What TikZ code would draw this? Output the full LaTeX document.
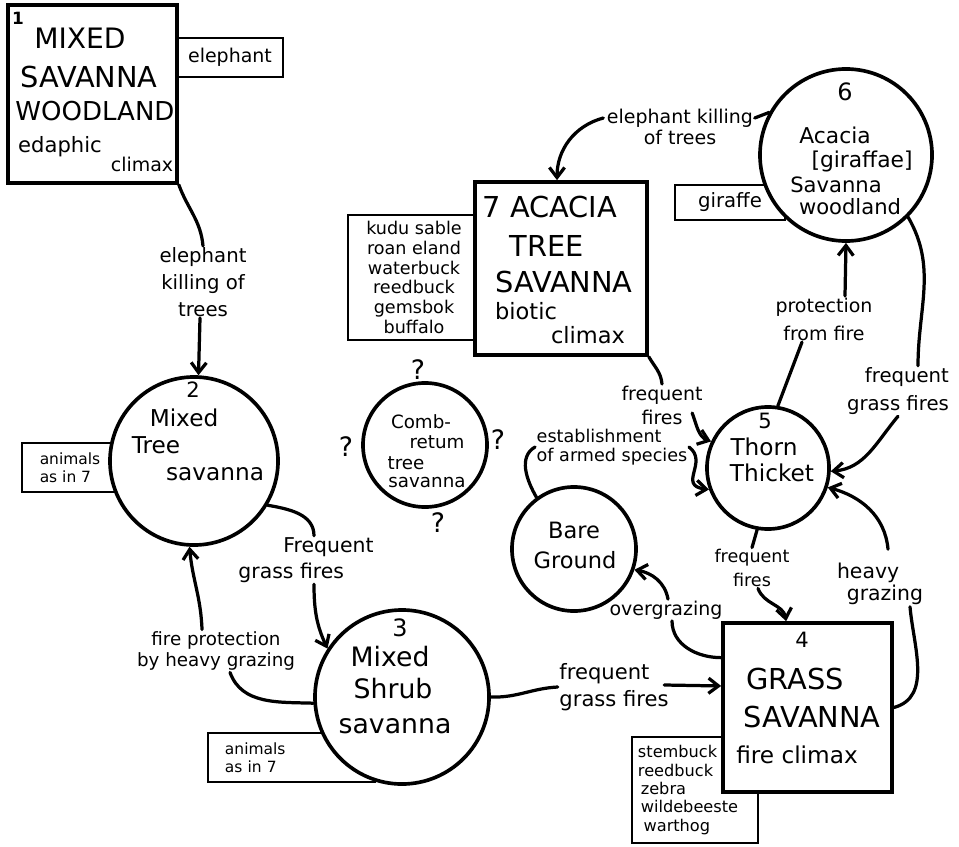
\documentclass[tikz,border=0pt]{standalone}
\usepackage{fontspec}
\setmainfont{DejaVu Sans}
\usetikzlibrary{arrows.meta,calc,positioning}

\tikzset{
    stage/.style={draw, line width=2.6pt, fill=white, inner sep=0pt},
    fauna/.style={draw, line width=1.6pt, fill=white, inner sep=3pt, font=\fontsize{11.5}{13}\selectfont},
    link/.style={line width=2.3pt, line cap=round},
    flow/.style={link, -{Straight Barb[length=2.5mm, width=3.8mm]}},
    caps/.style={inner sep=0pt, font=\fontsize{20.5}{24}\selectfont},
    names/.style={inner sep=0pt, font=\fontsize{16.5}{19}\selectfont},
    numb/.style={inner sep=0pt, font=\fontsize{15}{17}\selectfont},
    cue/.style={inner sep=1pt, align=center},
    qmark/.style={inner sep=0pt, font=\fontsize{19}{21}\selectfont},
}

\begin{document}
\begin{tikzpicture}[x=0.025cm, y=-0.025cm]
    \path[use as bounding box, fill=white] (0,0) rectangle (959,847);

    % Animal lists (behind the stages)
    \node[fauna, minimum width=2.65cm, minimum height=0.975cm, font=\fontsize{13.5}{16}\selectfont] (fz1) at (230,57.5) {elephant};
    \node[fauna, minimum width=2.4cm, minimum height=1.225cm, align=left, font=\fontsize{11}{13}\selectfont] (fz2) at (70,467.5) {animals\\as in 7};
    \node[fauna, minimum width=4.175cm, minimum height=1.225cm, text width=3.325cm, inner xsep=0.425cm, align=left, font=\fontsize{11}{13}\selectfont] (fz3) at (291.5,757.5) {animals\\as in 7};
    \node[fauna, minimum width=3.3cm, minimum height=3.125cm, align=center, font=\fontsize{12.5}{14}\selectfont] (fz7) at (414,277.5) {kudu sable\\roan eland\\waterbuck\\reedbuck\\gemsbok\\buffalo};
    \node[fauna, minimum width=3.15cm, minimum height=2.65cm, text width=2.85cm, inner xsep=0.15cm, align=left] (fz4) at (695,790) {stembuck\\reedbuck\\\hspace*{2pt}zebra\\\hspace*{2pt}wildebeeste\\\hspace*{4pt}warthog};
    \node[fauna, minimum width=2.75cm, minimum height=0.875cm, font=\fontsize{14}{16}\selectfont] (fz6) at (730,202.5) {giraffe};

    % Stages
    \node[stage, rectangle, minimum width=4.225cm, minimum height=4.45cm] (mixwood) at (92.5,94) {};
    \node[stage, rectangle, minimum width=4.3cm, minimum height=4.325cm] (acacia) at (561,268.5) {};
    \node[stage, rectangle, minimum width=4.225cm, minimum height=4.225cm] (grass) at (807.5,707.5) {};
    \node[stage, circle, minimum size=4.2cm] (mixtree) at (194,461) {};
    \node[stage, circle, minimum size=4.35cm] (mixshrub) at (402,697) {};
    \node[stage, circle, minimum size=3.05cm] (thorn) at (768,468) {};
    \node[stage, circle, minimum size=4.3cm] (acwood) at (846,155) {};
    \node[stage, circle, minimum size=3.1cm] (bare) at (574,549) {};
    \node[stage, circle, minimum size=3.1cm] (comb) at (425,445) {};

    % 1 mixed savanna woodland
    \node[inner sep=0pt, font=\bfseries\fontsize{12}{14}\selectfont] (n1) at (18,18) {1};
    \node[caps, font=\fontsize{20}{24}\selectfont] (t1a) at (80,38) {MIXED};
    \node[caps] (t1b) at (89,77) {SAVANNA};
    \node[caps, font=\fontsize{18.5}{22}\selectfont] (t1c) at (95,111) {WOODLAND};
    \node[names, font=\fontsize{15}{18}\selectfont] (t1d) at (60,147) {edaphic};
    \node[names, font=\fontsize{13.5}{16}\selectfont] (t1e) at (142,164) {climax};

    % 7 acacia tree savanna
    \node[caps] (t7a) at (550,207) {7 ACACIA};
    \node[caps] (t7b) at (547,246) {TREE};
    \node[caps] (t7c) at (564,282) {SAVANNA};
    \node[names, font=\fontsize{16}{19}\selectfont] (t7d) at (526,311) {biotic};
    \node[names, font=\fontsize{16}{19}\selectfont] (t7e) at (588,335) {climax};

    % 4 grass savanna
    \node[numb] (n4) at (802,640) {4};
    \node[caps] (t4a) at (795,679) {GRASS};
    \node[caps] (t4b) at (812,717) {SAVANNA};
    \node[names] (t4c) at (797,755) {fire climax};

    % 2 mixed tree savanna
    \node[numb] (n2) at (193,390) {2};
    \node[names] (t2a) at (184,418) {Mixed};
    \node[names] (t2b) at (156,445) {Tree};
    \node[names] (t2c) at (215,474) {savanna};

    % 3 mixed shrub savanna
    \node[numb, font=\fontsize{17}{19}\selectfont] (n3) at (400,628) {3};
    \node[names, font=\fontsize{19}{22}\selectfont] (t3a) at (390,657) {Mixed};
    \node[names, font=\fontsize{19}{22}\selectfont] (t3b) at (393,689) {Shrub};
    \node[names, font=\fontsize{19}{22}\selectfont] (t3c) at (395,726) {savanna};

    % 5 thorn thicket
    \node[numb] (n5) at (765,421) {5};
    \node[names] (t5a) at (764,447) {Thorn};
    \node[names] (t5b) at (772,473) {Thicket};

    % 6 acacia savanna woodland
    \node[numb, font=\fontsize{17}{19}\selectfont] (n6) at (845,92) {6};
    \node[names, font=\fontsize{15.5}{18}\selectfont] (t6a) at (835,135) {Acacia};
    \node[names, font=\fontsize{15.5}{18}\selectfont] (t6b) at (862,161) {[giraffae]};
    \node[names, font=\fontsize{15}{18}\selectfont] (t6c) at (836,185) {Savanna};
    \node[names, font=\fontsize{15}{18}\selectfont] (t6d) at (850,207) {woodland};

    % bare ground and combretum
    \node[names, font=\fontsize{16}{19}\selectfont] (tba) at (574,530) {Bare};
    \node[names, font=\fontsize{16}{19}\selectfont] (tbb) at (575,560) {Ground};
    \node[names, font=\fontsize{13}{15}\selectfont] (tca) at (421,422) {Comb-};
    \node[names, font=\fontsize{13}{15}\selectfont] (tcb) at (437,442) {retum};
    \node[names, font=\fontsize{13}{15}\selectfont] (tcc) at (406,463) {tree};
    \node[names, font=\fontsize{13}{15}\selectfont] (tcd) at (427,483) {savanna};
    \node[qmark] (q1) at (418,370) {?};
    \node[qmark] (q2) at (346,447) {?};
    \node[qmark] (q3) at (498,440) {?};
    \node[qmark] (q4) at (438,523) {?};

    % 1 -> 2
    \node[cue, font=\fontsize{14}{19}\selectfont] (e12) at (203,282) {elephant\\killing of\\trees};
    \draw[link] (mixwood.south east) to[out=-70,in=95] (e12.north);
    \draw[flow] ($(e12.south)+(-3,0)$) -- (mixtree.87);

    % 2 -> 3
    \node[cue, align=left, font=\fontsize{14.5}{18.5}\selectfont] (e23) at (306,560) {\hspace*{32pt}Frequent\\grass fires};
    \draw[link] (mixtree.-31) to[out=-10,in=90] ($(e23.north)+(8,0)$);
    \draw[flow] ($(e23.south)+(8,0)$) to[out=-90,in=115] (mixshrub.147);

    % 3 -> 2
    \node[cue, font=\fontsize{13}{15.5}\selectfont] (e32) at (216,651) {fire protection\\by heavy grazing};
    \draw[link] (mixshrub.184) to[out=178,in=-70] ($(e32.south)+(14,0)$);
    \draw[flow] ($(e32.north)+(-14,0)$) to[out=92,in=-85] (mixtree.-93);

    % 3 -> 4
    \node[cue, align=left, font=\fontsize{15}{19}\selectfont] (e34) at (614,687) {frequent\\grass fires};
    \draw[link] (mixshrub.east) to[out=-2,in=183] (e34.west);
    \draw[flow] ($(e34.east)+(-6,-2)$) -- (grass.166);

    % 4 -> bare ground
    \node[cue, font=\fontsize{13.5}{16}\selectfont] (e4b) at (666,610) {overgrazing};
    \draw[link] (grass.150) to[out=180,in=-90] ($(e4b.south)+(6,0)$);
    \draw[flow] ($(e4b.north)+(2,0)$) to[out=100,in=-10] (bare.-19);

    % bare ground -> 5
    \node[cue, align=left, font=\fontsize{12.5}{13.5}\selectfont] (eB5) at (612,447) {establishment\\of armed species};
    \draw[link] (bare.126) to[out=120,in=-150] (eB5.west);
    \draw[flow] (eB5.east) .. controls +(20,15) and +(-32,-4) .. (thorn.200);

    % 7 -> 5
    \node[cue, font=\fontsize{13.5}{17}\selectfont] (e75) at (662,405) {frequent\\fires};
    \draw[link] (acacia.south east) to[out=-60,in=95] (e75.north);
    \draw[flow] ($(e75.east)+(-12,8)$) to[out=-70,in=160] (thorn.155);

    % 5 -> 6
    \node[cue, font=\fontsize{13.5}{20}\selectfont] (e56) at (824,319) {protection\\from fire};
    \draw[link] (thorn.81) -- ($(e56.south)+(-22,0)$);
    \draw[flow] ($(e56.north)+(21,0)$) -- (acwood.south);

    % 6 -> 5
    \node[cue, align=right, font=\fontsize{14}{20}\selectfont] (e65) at (898,391) {frequent\\grass fires};
    \draw[link] (acwood.-45) to[out=-60,in=90] ($(e65.north)+(20,0)$);
    \draw[flow] (e65.south) to[out=-130,in=5] (thorn.-3);

    % 5 -> 4
    \node[cue, font=\fontsize{12.5}{17}\selectfont] (e54) at (752,568) {frequent\\fires};
    \draw[link] (thorn.-100) -- (e54.north);
    \draw[flow] ($(e54.south)+(6,0)$) to[out=-70,in=100] ($(grass.north west)+(65,0)$);

    % 4 -> 5
    \node[cue, align=left, font=\fontsize{14.5}{16}\selectfont] (e45) at (880,584) {heavy\\\hspace*{7pt}grazing};
    \draw[link] (grass.east) to[out=15,in=-85] ($(e45.south)+(30,0)$);
    \draw[flow] ($(e45.north)+(8,-12)$) to[out=95,in=-15] (thorn.-18);

    % 6 -> 7
    \node[cue, font=\fontsize{13.5}{14.5}\selectfont] (e67) at (680,127) {elephant killing\\of trees};
    \draw[link] (acwood.151) -- ($(e67.east)+(0,-9)$);
    \draw[flow] ($(e67.west)+(-2,-9)$) to[out=195,in=90] ($(acacia.north)+(-4,0)$);
\end{tikzpicture}
\end{document}
